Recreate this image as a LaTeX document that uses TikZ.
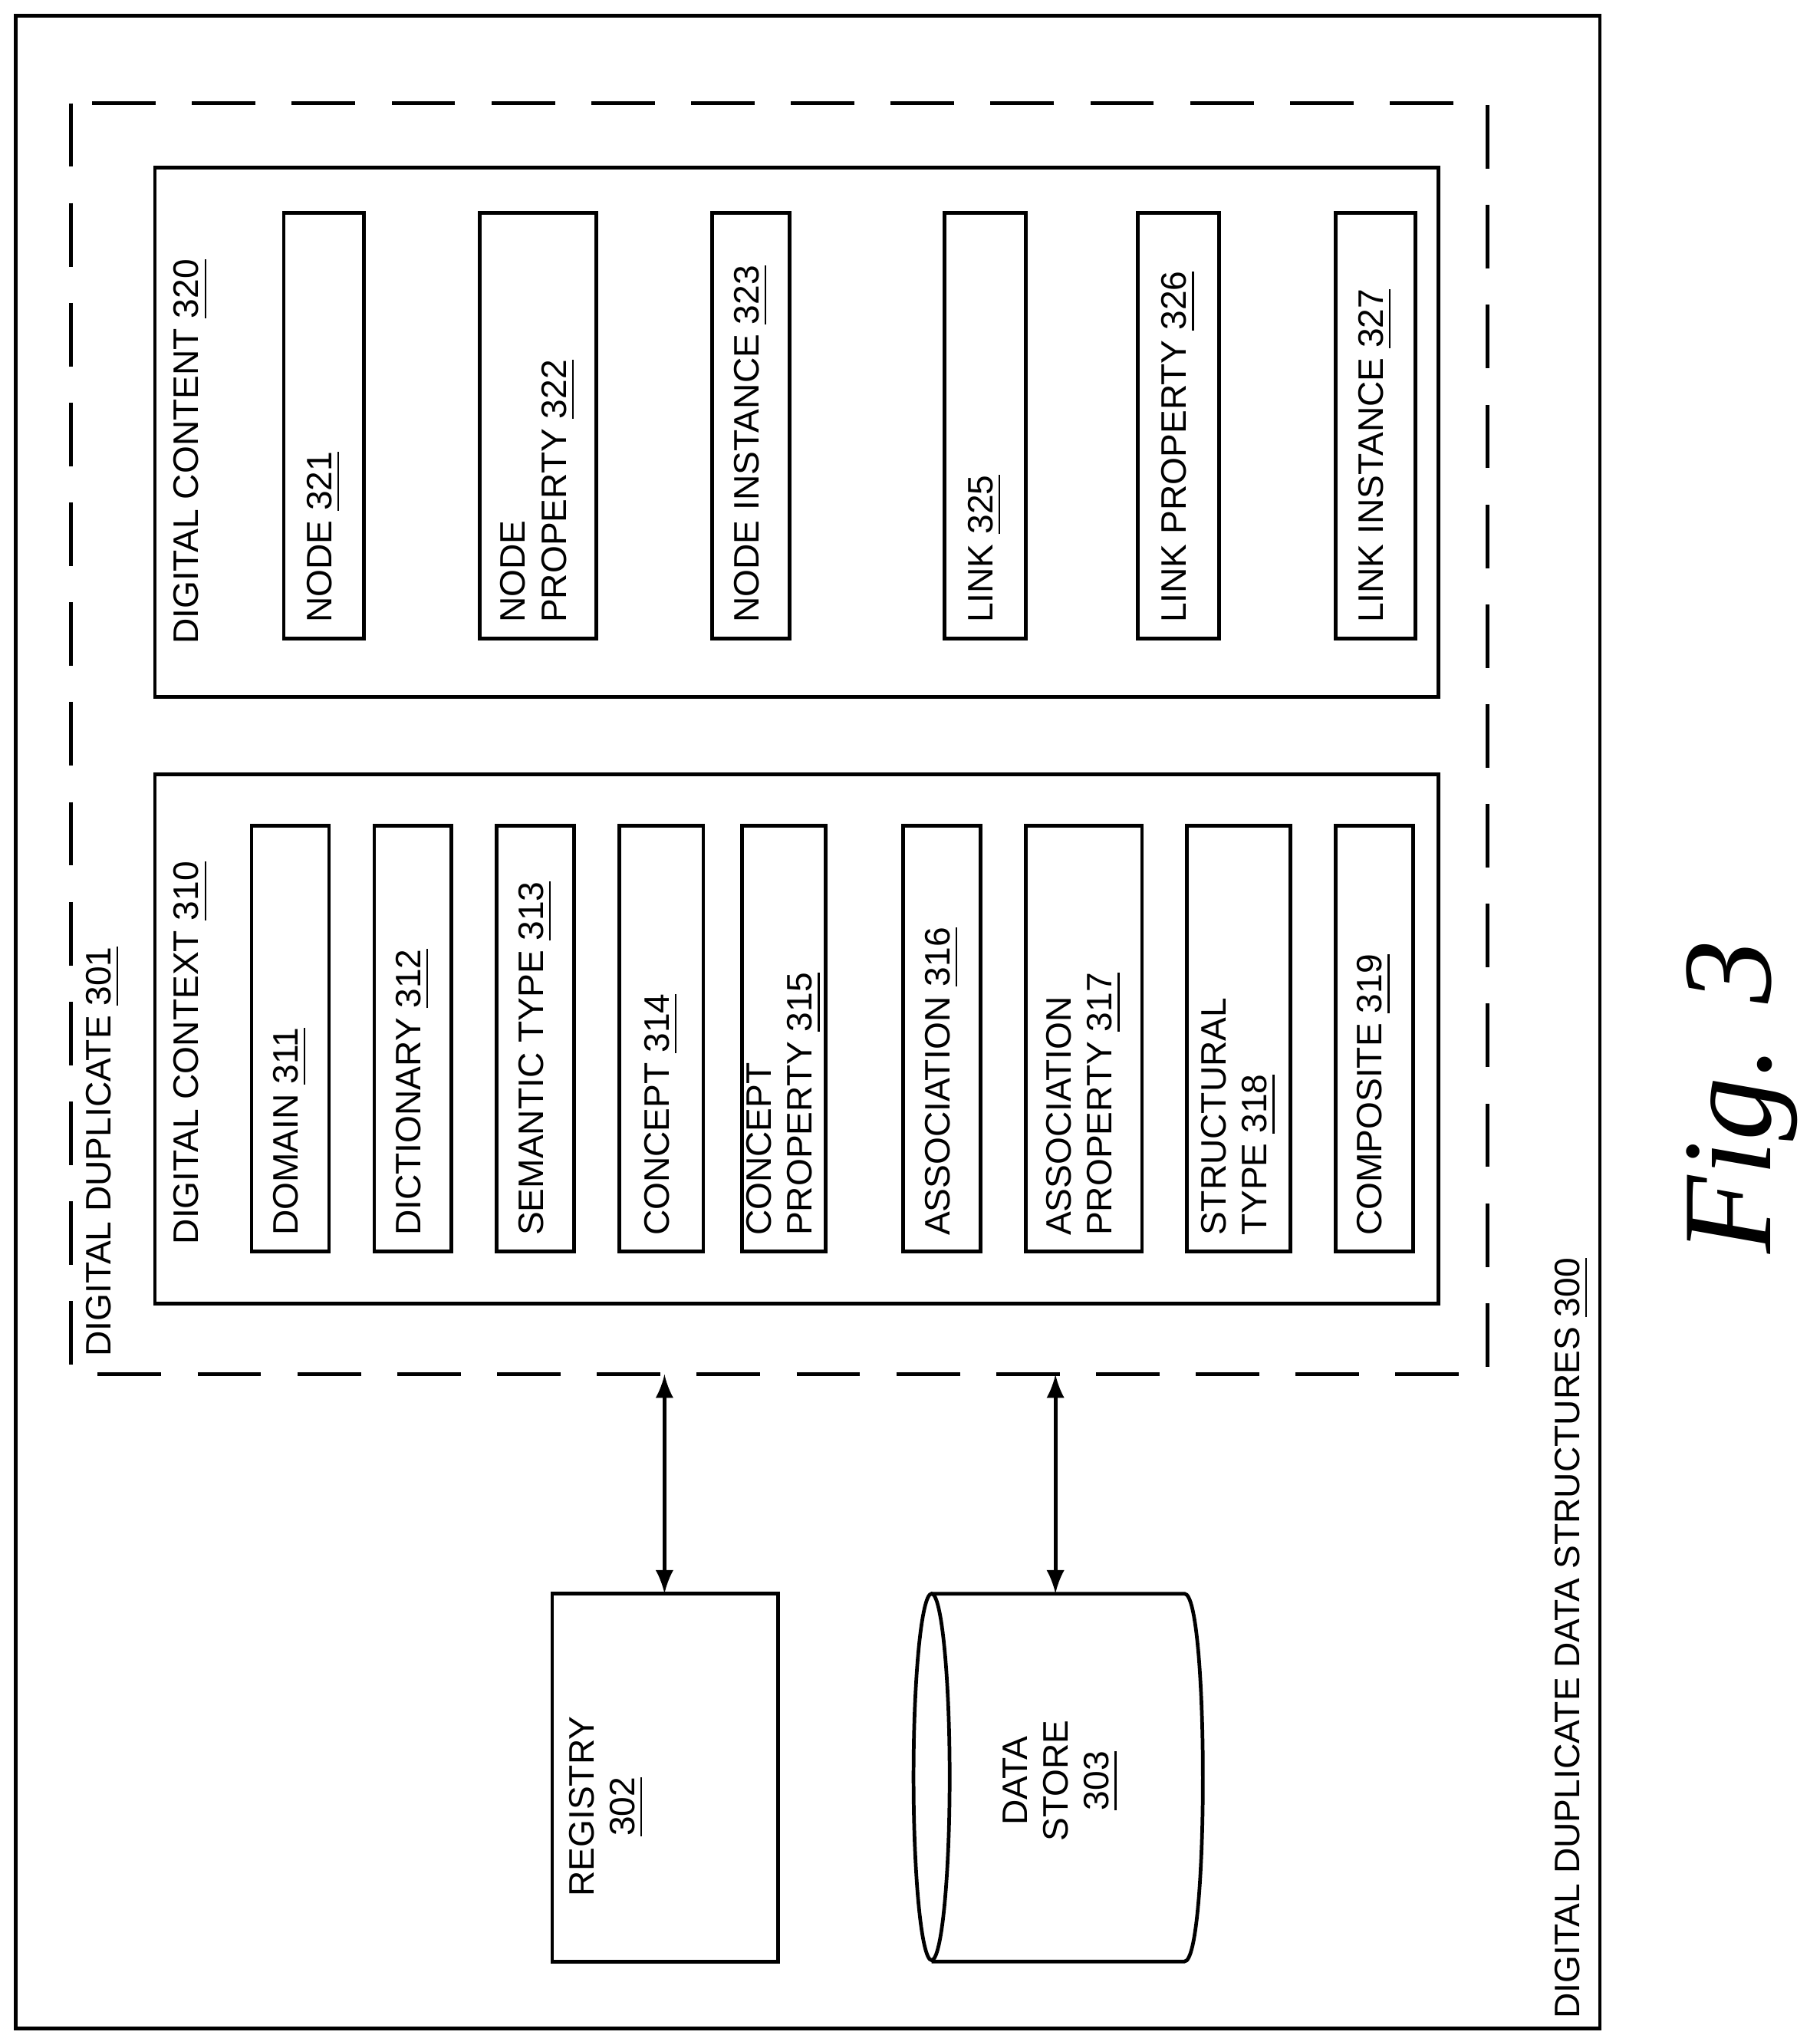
\documentclass[tikz,border=0pt]{standalone}
\usepackage{fontspec}
\setmainfont{Liberation Sans}
\newfontfamily\figfont{Liberation Serif}
\newcommand{\refnum}[1]{\underline{#1}}
\tikzset{
  lbl/.style={rotate=90, anchor=west, align=left, inner sep=0pt,
    font=\fontsize{7.8}{9}\selectfont},
  box/.style={draw=black, line width=0.8pt},
}
\begin{document}
\begin{tikzpicture}[x=0.01cm, y=-0.01cm]
  \useasboundingbox (0,0) rectangle (1410,1577);
  % outer frame
  \draw [box] (12,12) rectangle (1240,1572);
  \node [lbl, anchor=south west] (ddds) at (1232,1565) {DIGITAL DUPLICATE DATA STRUCTURES \refnum{300}};
  % digital duplicate
  \draw [box, dash pattern=on 14pt off 8pt] (55,80) rectangle (1153,1065);
  \node [lbl] (dd) at (80,1052) {DIGITAL DUPLICATE \refnum{301}};
  % digital context
  \draw [box] (120,600) rectangle (1115,1010);
  \node [lbl] (ctx) at (148,965) {DIGITAL CONTEXT \refnum{310}};
  \foreach \xa/\xb/\txt in {
      195/255/{DOMAIN \refnum{311}},
      290/350/{DICTIONARY \refnum{312}},
      385/445/{SEMANTIC TYPE \refnum{313}},
      480/545/{CONCEPT \refnum{314}},
      575/640/{CONCEPT\\PROPERTY \refnum{315}},
      700/760/{ASSOCIATION \refnum{316}},
      795/885/{ASSOCIATION\\PROPERTY \refnum{317}},
      920/1000/{STRUCTURAL\\TYPE \refnum{318}},
      1035/1095/{COMPOSITE \refnum{319}}} {
    \draw [box] (\xa,640) rectangle (\xb,970);
    \node [lbl, anchor=center] at ({(\xa+\xb)/2},805) {\parbox{3.05cm}{\raggedright\txt}};
  }
  % digital content
  \draw [box] (120,130) rectangle (1115,540);
  \node [lbl] (cnt) at (148,500) {DIGITAL CONTENT \refnum{320}};
  \foreach \xa/\xb/\txt in {
      220/282/{NODE \refnum{321}},
      372/462/{NODE\\PROPERTY \refnum{322}},
      552/612/{NODE INSTANCE \refnum{323}},
      732/795/{LINK \refnum{325}},
      882/945/{LINK PROPERTY \refnum{326}},
      1035/1097/{LINK INSTANCE \refnum{327}}} {
    \draw [box] (\xa,165) rectangle (\xb,495);
    \node [lbl, anchor=center] at ({(\xa+\xb)/2},330) {\parbox{3.05cm}{\raggedright\txt}};
  }
  % registry
  \draw [box] (428,1235) rectangle (603,1520);
  \node [lbl, anchor=center, align=center] (reg) at (470,1400) {REGISTRY\\\refnum{302}};
  % data store
  \draw [box] (722,1235) -- (918,1235) .. controls (937,1235) and (937,1520) .. (918,1520) -- (722,1520);
  \draw [box] (722,1377) ellipse (14 and 142);
  \node [lbl, anchor=center, align=center] (ds) at (822,1380) {DATA\\STORE\\\refnum{303}};
  % connectors
  \coordinate (ddA) at (515,1065);
  \coordinate (regA) at (515,1235);
  \coordinate (ddB) at (818,1065);
  \coordinate (dsB) at (818,1235);
  \draw [box, <->, >=latex] (ddA) -- (regA);
  \draw [box, <->, >=latex] (ddB) -- (dsB);
  \node [rotate=90, font=\fontsize{28}{32}\selectfont\figfont\itshape] (fig) at (1350,850) {Fig. 3};
\end{tikzpicture}
\end{document}
